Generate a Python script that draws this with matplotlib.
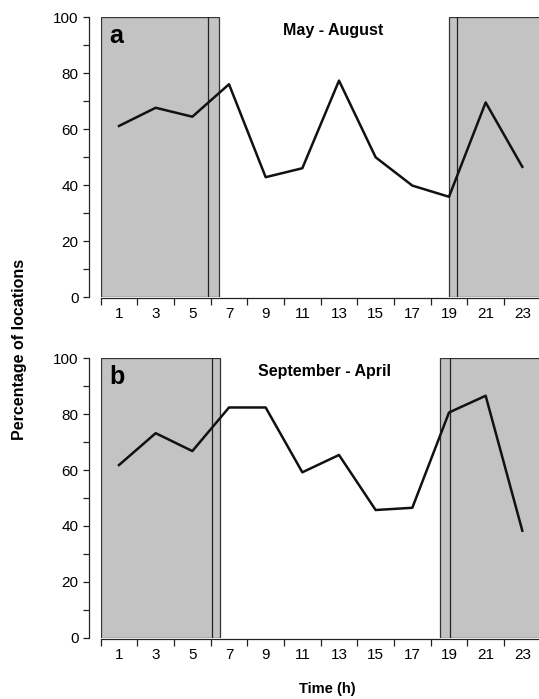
import matplotlib
matplotlib.use('Agg')
import matplotlib.pyplot as plt
import numpy as np

plt.rcParams['font.family'] = ['Liberation Sans', 'DejaVu Sans']

hours = [1, 3, 5, 7, 9, 11, 13, 15, 17, 19, 21, 23]
may_aug = [61.2, 67.7, 64.5, 76.1, 42.9, 46.1, 77.4, 50.0, 39.9, 35.9, 69.6, 46.6]
sep_apr = [61.8, 73.2, 66.8, 82.4, 82.4, 59.2, 65.4, 45.7, 46.5, 80.6, 86.6, 38.3]

# night shading: (start, end, line) for morning and evening
night_a = [(0, 6.47, 5.87), (19.0, 25, 19.45)]
night_b = [(0, 6.53, 6.09), (18.53, 25, 19.07)]

panels = [('a', 'May - August', may_aug, night_a, 0.53),
          ('b', 'September - April', sep_apr, night_b, 0.51)]

fig = plt.figure(figsize=(5.39, 6.99), dpi=100)
boxes = [[0.1868, 0.5747, 0.8132, 0.4005], [0.1868, 0.0877, 0.8132, 0.3997]]

for box, (letter, title, vals, night, tx) in zip(boxes, panels):
    ax = fig.add_axes(box)
    for s, e, l in night:
        ax.axvspan(s, e, ymin=0, ymax=1, facecolor='#c3c3c3', edgecolor='#333333', linewidth=0.9, zorder=1)
        ax.plot([l, l], [0, 100], color='#222222', linewidth=0.9, zorder=2)
    ax.plot(hours, vals, color='#111111', linewidth=1.8, zorder=3)

    ax.set_xlim(0, 23.91)
    ax.set_ylim(0, 100)
    ax.spines['top'].set_visible(False)
    ax.spines['right'].set_visible(False)
    ax.spines['left'].set_position(('outward', 8.4))
    ax.spines['left'].set_bounds(0, 100)
    ax.spines['bottom'].set_position(('outward', 0.7))
    for sp in ['left', 'bottom']:
        ax.spines[sp].set_linewidth(0.9)
        ax.spines[sp].set_color('#222222')

    ax.set_yticks(np.arange(0, 101, 20))
    ax.set_yticks(np.arange(10, 100, 20), minor=True)
    ax.tick_params(axis='y', which='both', length=4.5, width=0.9, labelsize=11, pad=3, color='#222222')

    ax.set_xticks(np.arange(0, 24, 2))
    ax.set_xticklabels([])
    ax.set_xticks(hours, minor=True)
    ax.set_xticklabels([str(h) for h in hours], minor=True)
    ax.tick_params(axis='x', which='major', length=5, width=0.9, color='#222222')
    ax.tick_params(axis='x', which='minor', length=0, labelsize=11, pad=6.5)

    ax.text(0.02, 0.975, letter, transform=ax.transAxes, fontsize=18, fontweight='bold', va='top', ha='left', zorder=4)
    ax.text(tx, 0.953, title, transform=ax.transAxes, fontsize=11.5, fontweight='bold', va='center', ha='center', zorder=4)

fig.text(0.037, 0.5, 'Percentage of locations', rotation=90, fontsize=11.5, fontweight='bold', va='center', ha='center')
fig.text(0.607, 0.015, 'Time (h)', fontsize=10.5, fontweight='bold', va='center', ha='center')

fig.savefig('out.png', dpi=100)
